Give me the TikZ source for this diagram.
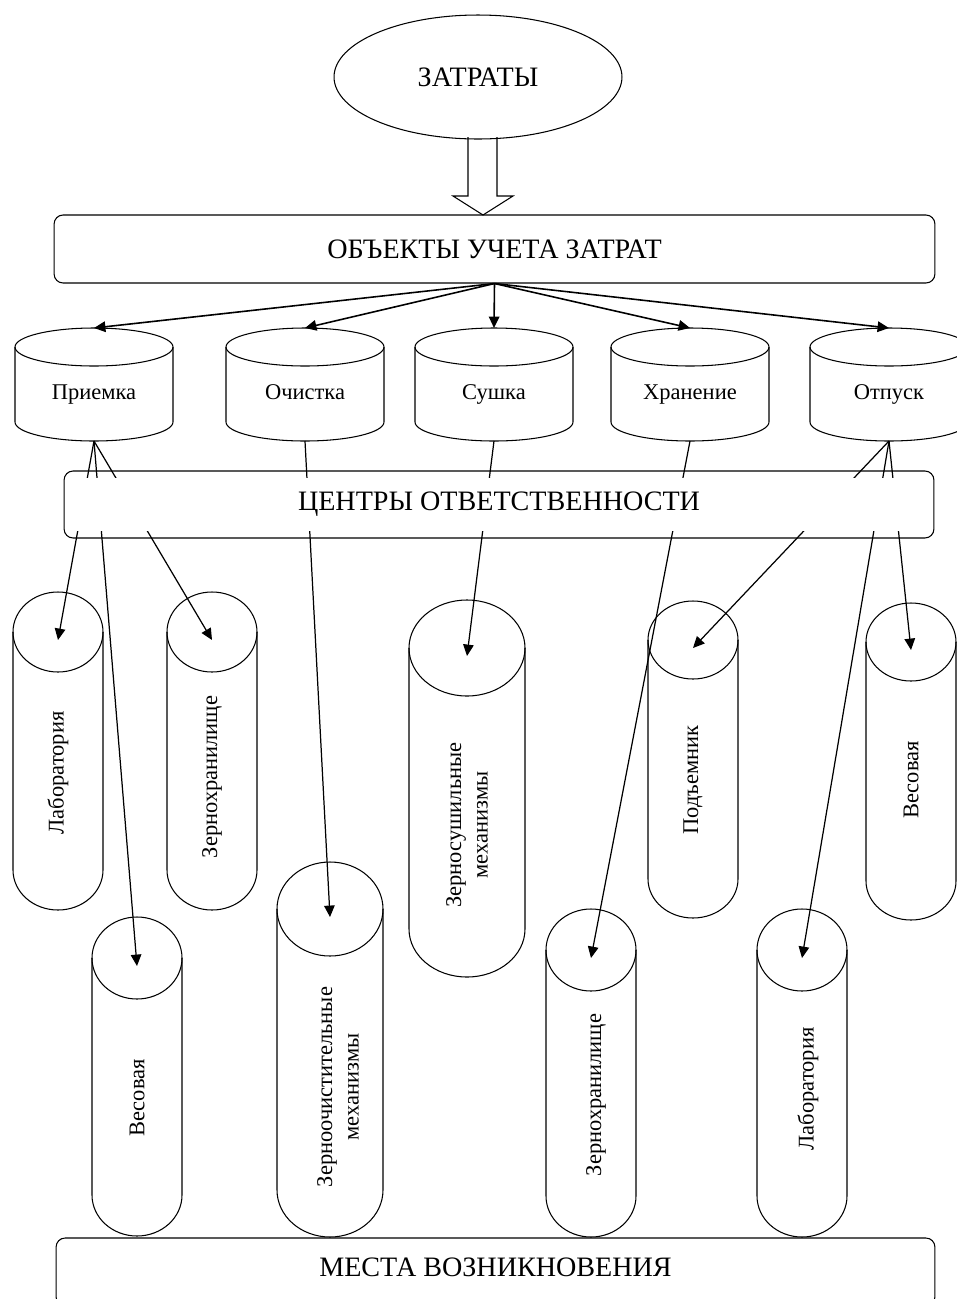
\documentclass[tikz,border=0pt]{standalone}
\usepackage{fontspec}
\setmainfont{Liberation Serif}
\usetikzlibrary{shapes.geometric,arrows.meta}

\tikzset{
  big/.style={font=\fontsize{16}{19}\selectfont},
  small/.style={font=\fontsize{12.8}{15}\selectfont},
  wall/.style={line width=0.6pt},
  box/.style={draw, wall, rounded corners=0.18cm, inner sep=0pt},
  link/.style={line width=0.7pt, -{Triangle[length=6.5pt,width=6pt]}}
}

\begin{document}
\begin{tikzpicture}[x=0.02cm, y=0.02cm]
\useasboundingbox (0,0) rectangle (957,-1299);
\clip (0,0) rectangle (957,-1299);

\node[ellipse, draw, wall, minimum width=5.76cm, minimum height=2.48cm, inner sep=0pt, big] (costs) at (478,-77) {ЗАТРАТЫ};
\draw[wall] (468,-137) -- (468,-196) -- (453,-196) -- (483,-215) -- (513,-196) -- (497,-196) -- (497,-137);
\node[box, minimum width=17.62cm, minimum height=1.36cm, big] (objects) at (494.5,-249) {ОБЪЕКТЫ УЧЕТА ЗАТРАТ};

\foreach \nm/\cx/\lab in {intake/94/Приемка, cleaning/305/Очистка, drying/494/Сушка, storage/690/Хранение, release/889/Отпуск} {
\draw[wall] (\cx,-347) ellipse [x radius=79, y radius=19];
\draw[wall] (\cx-79,-347) -- (\cx-79,-422) arc [start angle=180, end angle=360, x radius=79, y radius=19] -- (\cx+79,-347);
\node[small, anchor=base] (\nm) at (\cx,-399) {\lab};
\coordinate (\nm-top) at (\cx,-328);
\coordinate (\nm-bot) at (\cx,-441);
}

\foreach \nm in {intake,cleaning,drying,storage,release}
\draw[link, line width=0.9pt] (objects.south) -- (\nm-top);

\node[box, minimum width=17.4cm, minimum height=1.34cm] (centres) at (499,-504.5) {};

\foreach \nm/\cx/\rx/\ya/\ry/\yb/\tx/\ty/\lab in {
 labL/58/45/592/40/910/58/773/Лаборатория,
 storeL/212/45/592/40/910/212/777/Зернохранилище,
 scaleL/137/45/917/41/1236/137/1098/Весовая,
 cleaner/330/53/862/47/1237/338/1087/{Зерноочистительные\\механизмы},
 dryer/467/58/600/48/977/467/825/{Зерносушильные\\механизмы},
 lift/693/45/601/39/918/693/780/Подъемник,
 scaleR/911/45/603/39/920/911/780/Весовая,
 storeR/591/45/909/41/1237/596/1095/Зернохранилище,
 labR/802/45/909/41/1237/808/1089/Лаборатория} {
\draw[wall] (\cx,-\ya-\ry) ellipse [x radius=\rx, y radius=\ry];
\draw[wall] (\cx-\rx,-\ya-\ry) -- (\cx-\rx,-\yb+\ry) arc [start angle=180, end angle=360, x radius=\rx, y radius=\ry] -- (\cx+\rx,-\ya-\ry);
\node[small, rotate=90, align=center] (\nm) at (\tx,-\ty) {\lab};
\coordinate (\nm-in) at (\cx,-\ya-\ry-8);
}

\foreach \from/\to in {intake/labL, intake/scaleL, intake/storeL, cleaning/cleaner, drying/dryer, storage/storeR, release/lift, release/labR, release/scaleR}
\draw[link] (\from-bot) -- (\to-in);

\fill[white] ([xshift=1pt,yshift=-0.16cm]centres.north west) rectangle ([xshift=-1pt,yshift=0.16cm]centres.south east);
\node[big] (centres-txt) at (centres) {ЦЕНТРЫ ОТВЕТСТВЕННОСТИ};

\node[box, minimum width=17.58cm, minimum height=1.36cm] (places) at (495.5,-1272) {};
\node[big] (places-txt) at (495.5,-1267) {МЕСТА ВОЗНИКНОВЕНИЯ};
\end{tikzpicture}
\end{document}
